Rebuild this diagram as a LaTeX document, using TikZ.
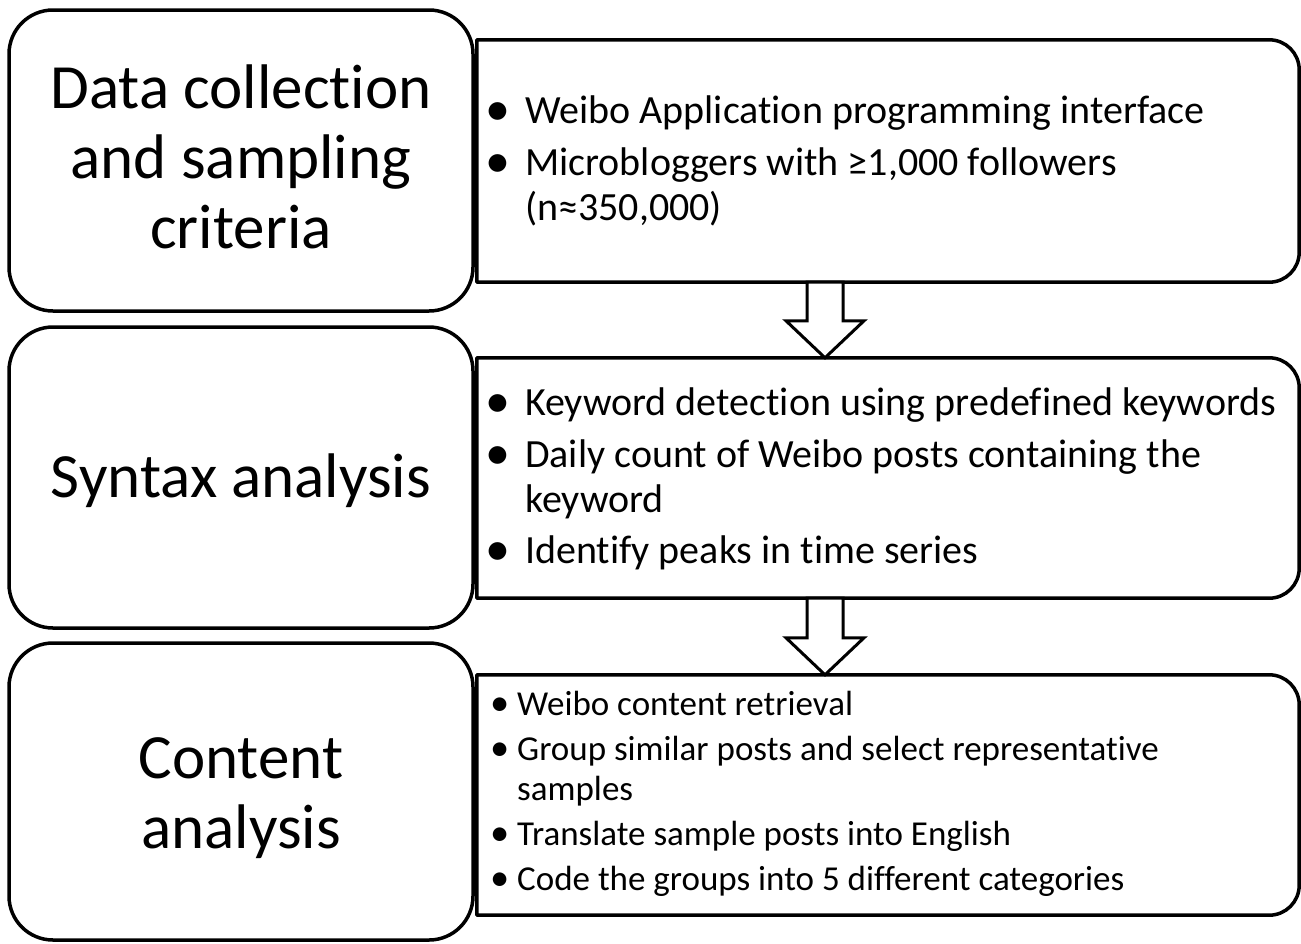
\documentclass[tikz,border=0pt]{standalone}
\usepackage{fontspec}
\setmainfont{Carlito}[Ligatures=NoCommon]
\usetikzlibrary{calc}
\newcommand\drawrightbox[1]{%
  \draw[edge] (#1.south west) -- (#1.north west) -- ([xshift=-30pt]#1.north east)
    arc[start angle=-90,end angle=0,radius=30] -- ([yshift=30pt]#1.south east)
    arc[start angle=0,end angle=90,radius=30] -- cycle;}
\newcommand\drawblockarrow[3]{%
  \draw[blockarrow] ($(#1.south -| #3)+(-18,0)$) -- ($(#2.north -| #3)+(-18,-37)$)
    -- ($(#2.north -| #3)+(-39,-37)$) -- (#2.north -| #3)
    -- ($(#2.north -| #3)+(39,-37)$) -- ($(#2.north -| #3)+(18,-37)$)
    -- ($(#1.south -| #3)+(18,0)$) -- cycle;}
% bullet: box width, centre offset, scale, raise
\newcommand\bul[4]{\makebox[#1][l]{\hspace{#2}\makebox[0pt][c]{\raisebox{#4}{\scalebox{#3}{\textbullet}}}}}
\newcommand\bulA{\bul{37pt}{10pt}{1.25}{-2.5pt}}
\newcommand\bulB{\bul{22pt}{5pt}{1.1}{-0.5pt}}
\begin{document}
\begin{tikzpicture}[x=1pt,y=-1pt,
  lbox/.style={draw, line width=3.5pt, rounded corners=44pt, minimum width=464pt, inner sep=0pt},
  rshape/.style={inner sep=0pt, minimum width=822pt},
  edge/.style={line width=3.5pt, line join=round},
  blockarrow/.style={draw, fill=white, line width=3pt, line join=miter},
  bigtext/.style={font=\fontsize{63}{70}\selectfont, anchor=base, inner sep=0pt},
  listtext/.style={font=\fontsize{40}{45}\selectfont, anchor=base west, inner sep=0pt},
  smalllist/.style={font=\fontsize{35}{40}\selectfont, anchor=base west, inner sep=0pt}]
\useasboundingbox (0,0) rectangle (1301,943);

% left boxes
\node[lbox, minimum height=301pt] (l1) at (241,160.5) {};
\node[lbox, minimum height=301pt] (l2) at (241,477.5) {};
\node[lbox, minimum height=297pt] (l3) at (241,791.5) {};

% right boxes
\node[rshape, minimum height=242pt] (r1) at (888,161) {};
\node[rshape, minimum height=240pt] (r2) at (888,478) {};
\node[rshape, minimum height=240pt] (r3) at (888,795) {};
\drawrightbox{r1}
\drawrightbox{r2}
\drawrightbox{r3}

% block arrows
\coordinate (ax) at (825,0);
\drawblockarrow{r1}{r2}{ax}
\drawblockarrow{r2}{r3}{ax}

% left texts
\node[bigtext] (t1) at (241,108) {\begin{tabular}[t]{@{}c@{}}Data collection\\and sampling\\criteria\end{tabular}};
\node[bigtext] (t2) at (241,497) {\begin{tabular}[t]{@{}c@{}}Syntax analysis\end{tabular}};
\node[bigtext] (t3) at (241,778) {\begin{tabular}[t]{@{}c@{}}Content\\analysis\end{tabular}};

% right texts
\node[listtext] (b1) at (488,123) {\begin{tabular}[t]{@{}l@{}l@{}}
\bulA&Weibo Application programming interface\\[7pt]
\bulA&Microbloggers with ≥1,000 followers\\
&(n≈350,000)\end{tabular}};
\node[listtext] (b2) at (488,415) {\begin{tabular}[t]{@{}l@{}l@{}}
\bulA&Keyword detection using predefined keywords\\[7pt]
\bulA&Daily count of Weibo posts containing the\\
&keyword\\[6pt]
\bulA&Identify peaks in time series\end{tabular}};
\node[smalllist] (b3) at (495,715) {\begin{tabular}[t]{@{}l@{}l@{}}
\bulB&Weibo content retrieval\\[5pt]
\bulB&Group similar posts and select representative\\
&samples\\[5pt]
\bulB&Translate sample posts into English\\[5pt]
\bulB&Code the groups into 5 different categories\end{tabular}};
\end{tikzpicture}
\end{document}
